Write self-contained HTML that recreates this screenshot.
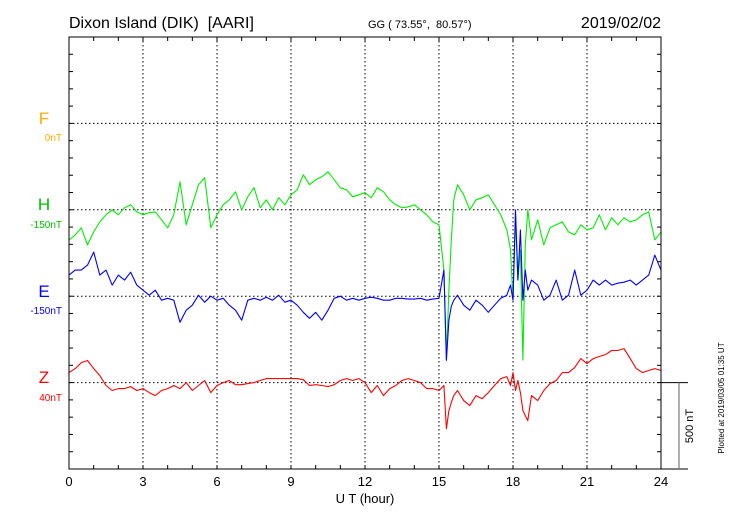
<!DOCTYPE html>
<html><head><meta charset="utf-8"><style>
html,body{margin:0;padding:0;background:#fff;}
svg{display:block;font-family:"Liberation Sans",sans-serif;}
text{white-space:pre;}
</style></head><body>
<svg id="chart" width="730" height="520" viewBox="0 0 730 520" xmlns="http://www.w3.org/2000/svg">
<rect width="730" height="520" fill="#fff"/>
<text x="69" y="28" font-size="16" xml:space="preserve">Dixon Island (DIK)  [AARI]</text>
<text x="368" y="28" font-size="11" xml:space="preserve">GG ( 73.55°,  80.57°)</text>
<text x="661" y="28" font-size="16" text-anchor="end">2019/02/02</text>
<g id="grid"></g>
<g id="series"></g>
<rect x="69" y="37" width="592" height="432" fill="none" stroke="#000" stroke-width="1"/>
<g id="axes"></g>
<text x="365" y="503" font-size="13" text-anchor="middle">U T (hour)</text>
<text x="44" y="124" font-size="17" fill="#ffaa00" text-anchor="middle">F</text>
<text x="62" y="141" font-size="10" fill="#ffaa00" text-anchor="end">0nT</text>
<text x="44" y="210" font-size="17" fill="#00c000" text-anchor="middle">H</text>
<text x="62" y="228" font-size="10" fill="#00c000" text-anchor="end">-150nT</text>
<text x="44" y="297" font-size="17" fill="#0000ff" text-anchor="middle">E</text>
<text x="62" y="314" font-size="10" fill="#0000ff" text-anchor="end">-150nT</text>
<text x="44" y="383" font-size="17" fill="#ff0000" text-anchor="middle">Z</text>
<text x="62" y="401" font-size="10" fill="#ff0000" text-anchor="end">40nT</text>
<g>
<line x1="661" y1="382.6" x2="688" y2="382.6" stroke="#000"/>
<line x1="661" y1="469" x2="688" y2="469" stroke="#000"/>
<line x1="679" y1="382.6" x2="679" y2="469" stroke="#777" stroke-width="1.2"/>
<text transform="translate(693,426) rotate(-90)" font-size="11" text-anchor="middle">500 nT</text>
</g>
<text transform="translate(724,398) rotate(-90)" font-size="8" text-anchor="middle">Plotted at 2019/03/05 01:35 UT</text>
</svg>
<script>
const hours=[0,0.25,0.5,0.75,1,1.25,1.5,1.75,2,2.25,2.5,2.75,3,3.25,3.5,3.75,4,4.25,4.5,4.75,5,5.25,5.5,5.75,6,6.25,6.5,6.75,7,7.25,7.5,7.75,8,8.25,8.5,8.75,9,9.25,9.5,9.75,10,10.25,10.5,10.75,11,11.25,11.5,11.75,12,12.25,12.5,12.75,13,13.25,13.5,13.75,14,14.25,14.5,14.75,15,
15.2,15.3,15.4,15.5,15.6,15.75,16,16.25,16.5,16.75,17,17.25,17.5,17.75,17.9,18,18.1,18.2,18.3,18.4,18.5,18.6,18.75,
19,19.25,19.5,19.75,20,20.25,20.5,20.75,21,21.25,21.5,21.75,22,22.25,22.5,22.75,23,23.25,23.5,23.75,24];
const hValues=[-174,-145,-104,-203,-128,-70,-29,0,-29,12,29,-12,-29,-17,-12,-58,-104,-29,162,-87,29,145,186,-104,-29,29,58,104,0,75,128,12,58,0,70,29,87,116,203,145,174,191,220,174,128,116,75,87,99,70,128,104,58,29,12,17,29,0,-29,-70,-87,
-348,-870,-464,-174,58,145,87,0,58,70,87,29,-29,-116,-232,-522,-29,-406,-232,-870,-203,0,-174,
-58,-203,-104,-87,-70,-128,-145,-87,-116,-104,-29,-116,-46,-87,-46,-70,-58,-29,-12,-174,-128];
const eValues=[122,151,151,180,255,122,151,64,122,93,139,64,35,6,35,-23,-12,-23,-151,-81,-52,6,-35,0,-23,-12,-52,-81,-139,-23,-12,-23,-6,-23,6,-35,-23,-52,-93,-128,-93,-139,-81,-12,0,-23,-12,-23,-12,-6,-12,-23,-23,-12,-12,-17,-17,-12,-23,-17,-12,
151,-371,-139,-58,-23,6,-52,-81,-23,-52,-93,-52,-12,6,64,-23,499,93,383,-23,151,35,93,
64,-23,6,93,-23,6,151,6,35,93,64,93,64,75,81,93,64,93,122,238,151];
const zValues=[58,81,116,128,81,41,-17,-46,-35,-35,-23,-46,-35,-58,-75,-46,-35,-17,-35,0,-46,-17,12,-58,-17,0,12,-12,-12,-6,0,12,23,23,23,23,23,23,17,-17,-12,-17,-23,-12,12,23,12,23,0,-58,-17,-75,-35,-17,12,23,12,0,-35,-35,-46,
-17,-267,-162,-116,-75,-46,-104,-133,-75,-93,-58,-17,23,35,-17,58,-46,12,-58,-162,-191,-220,-75,
-104,-46,-6,12,58,58,87,139,110,139,151,162,186,186,197,139,81,58,70,81,70];
const xTicks=[0,3,6,9,12,15,18,21,24];

const NS="http://www.w3.org/2000/svg";
const X0=69,X1=661,Y0=37,Y1=469;
const PX_PER_NT=86.4/500;
function xs(h){return X0+(X1-X0)*h/24;}
function ys(base,v){return base-v*PX_PER_NT;}
function mk(tag,attrs,parent){const e=document.createElementNS(NS,tag);for(const k in attrs)e.setAttribute(k,attrs[k]);parent.appendChild(e);return e;}
const grid=document.getElementById('grid'),axes=document.getElementById('axes'),series=document.getElementById('series');
const hLines=[123.4,209.8,296.2,382.6];
hLines.forEach(y=>{const l=mk('line',{x1:X0,x2:X1,y1:y,y2:y,stroke:'#000','stroke-dasharray':'1.5,2.5','stroke-width':1},grid);

});
xTicks.forEach(h=>{if(h>0&&h<24){const l=mk('line',{x1:xs(h),x2:xs(h),y1:Y0,y2:Y1,stroke:'#000','stroke-dasharray':'1.5,2.5','stroke-width':1},grid);

}
const t=mk('text',{x:xs(h),y:486,'font-size':13,'text-anchor':'middle'},axes);t.textContent=h;

});
for(let h=1;h<24;h++){mk('line',{x1:xs(h),x2:xs(h),y1:Y0,y2:Y0+4,stroke:'#000'},axes);mk('line',{x1:xs(h),x2:xs(h),y1:Y1,y2:Y1-4,stroke:'#000'},axes);}
for(let i=1;i<25;i++){const y=Y0+i*17.28;mk('line',{x1:X0,x2:X0+4,y1:y,y2:y,stroke:'#000'},axes);mk('line',{x1:X1,x2:X1-4,y1:y,y2:y,stroke:'#000'},axes);}
function drawSeries(vals,base,color,name){
  const d=hours.map((h,i)=>(i?'L':'M')+xs(h).toFixed(1)+','+ys(base,vals[i]).toFixed(1)).join(' ');
  const p=mk('path',{d:d,fill:'none',stroke:color,'stroke-width':1.1,'stroke-linejoin':'round'},series);
  
  
}
drawSeries(hValues,209.8,'#00ee00','h-component-line');
drawSeries(eValues,296.2,'#0000ff','e-component-line');
drawSeries(zValues,382.6,'#ff0000','z-component-line');
</script>
</body></html>
